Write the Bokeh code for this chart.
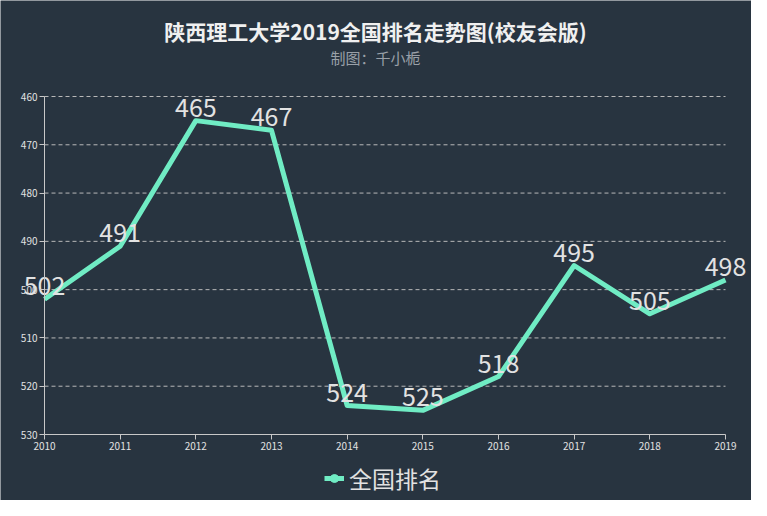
from bokeh.plotting import figure
from bokeh.models import Range1d, FixedTicker, Legend, LegendItem, ColumnDataSource, Label
from bokeh.core.properties import value
from bokeh.embed import file_html
from bokeh.resources import INLINE

# data
years = [2010, 2011, 2012, 2013, 2014, 2015, 2016, 2017, 2018, 2019]
ranks = [502, 491, 465, 467, 524, 525, 518, 495, 505, 498]
rank_labels = [str(r) for r in ranks]
y_ticks = [460, 470, 480, 490, 500, 510, 520, 530]

title_text = "陕西理工大学2019全国排名走势图(校友会版)"
subtitle_text = "制图：千小栀"
series_name = "全国排名"

FONT = "Noto Sans CJK SC"
BG = "#283440"
LINE = "#70ecc4"
TXT = "#e2e2e2"

# the frame fills the whole canvas; axes are pinned inside it so that
# labels near the edges are not clipped
W, H = 751, 500
ax_left, ax_right = 44, 725    # pixel x of first / last year
ax_top, ax_bottom = 96, 434    # pixel y of top / bottom tick
xs = (years[-1] - years[0]) / (ax_right - ax_left)
ys = (y_ticks[-1] - y_ticks[0]) / (ax_bottom - ax_top)

def px(pix):
    return years[0] + (pix - ax_left) * xs

def py(pix):
    return y_ticks[0] + (pix - ax_top) * ys

p = figure(width=W, height=H, output_backend="svg", toolbar_location=None,
           x_range=Range1d(px(0), px(W)), y_range=Range1d(py(H), py(0)),
           min_border=0)
p.background_fill_color = BG
p.border_fill_color = BG
p.outline_line_color = None

# axes
p.xaxis.ticker = FixedTicker(ticks=years)
p.yaxis.ticker = FixedTicker(ticks=y_ticks)
p.xaxis.fixed_location = y_ticks[-1]
p.xaxis.bounds = (years[0], years[-1])
p.yaxis.fixed_location = years[0]
p.yaxis.bounds = (y_ticks[0], y_ticks[-1])
for ax in (p.xaxis[0], p.yaxis[0]):
    ax.axis_line_color = "#c8c8c8"
    ax.major_tick_line_color = "#c8c8c8"
    ax.major_tick_in = 0
    ax.major_tick_out = 5
    ax.minor_tick_line_color = None
    ax.major_label_text_color = TXT
    ax.major_label_text_font = FONT
    ax.major_label_text_font_size = "10px"
    ax.major_label_standoff = 2

p.xgrid.grid_line_color = None
p.ygrid.grid_line_color = None

# dashed horizontal grid between first and last year
p.segment(x0=years[0], x1=years[-1], y0=y_ticks[:-1], y1=y_ticks[:-1],
          line_color="#b8b8b8", line_dash="4 3", line_width=1)

src = ColumnDataSource(dict(x=years, y=ranks, t=rank_labels))
ln = p.line("x", "y", source=src, line_color=LINE, line_width=5, line_join="round")
p.text("x", "y", text="t", source=src, text_align="center", text_baseline="bottom",
       y_offset=-4, text_font=value(FONT), text_font_size="25px", text_color=TXT)

# hidden dot glyph, only shown as part of the legend swatch
dot = p.scatter("x", "y", source=src, marker="circle", size=10,
                fill_color=LINE, line_color=LINE, visible=False)

# titles
p.add_layout(Label(x=px(375), y=py(30), text=title_text, text_align="center",
                   text_baseline="middle", text_font=FONT, text_font_size="21px",
                   text_font_style="bold", text_color="#f0f0f0"))
p.add_layout(Label(x=px(375), y=py(57), text=subtitle_text, text_align="center",
                   text_baseline="middle", text_font=FONT, text_font_size="15px",
                   text_color="#9aa0a8"))

legend = Legend(items=[LegendItem(label=series_name, renderers=[ln, dot])],
                location=(324, 5), orientation="horizontal",
                label_text_font=FONT, label_text_font_size="23px",
                label_text_color=TXT, background_fill_alpha=0,
                border_line_alpha=0, inactive_fill_alpha=0,
                glyph_width=20, glyph_height=20,
                padding=0, margin=0, label_standoff=5)
p.add_layout(legend, "center")

open("out.html", "w").write(file_html(p, INLINE))
